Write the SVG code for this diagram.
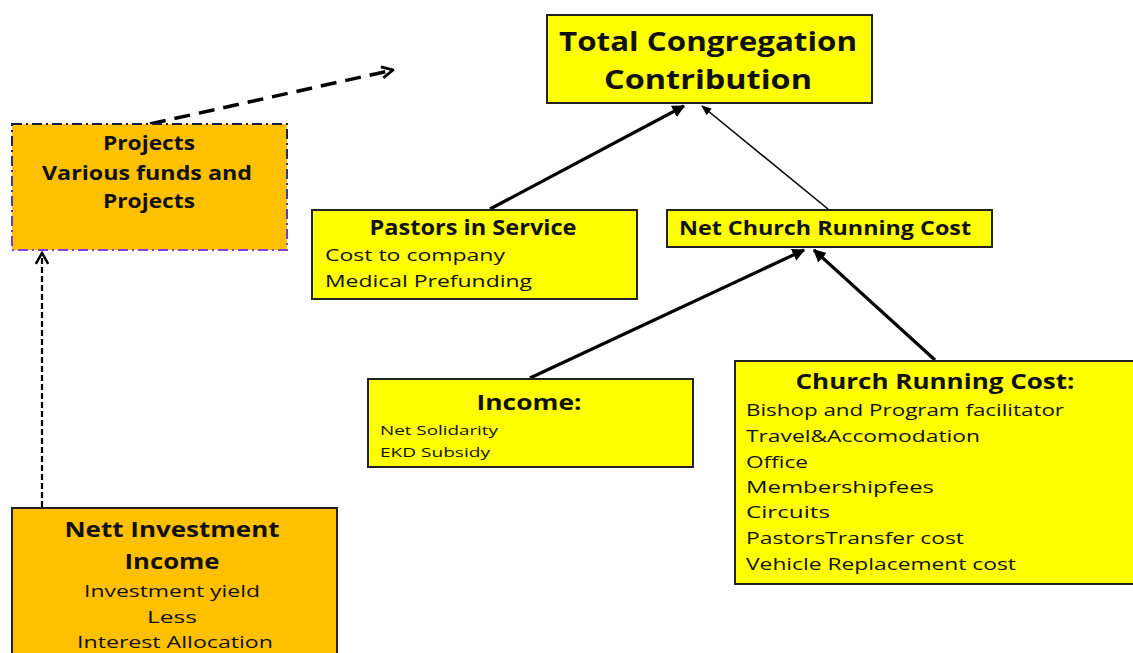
<svg xmlns="http://www.w3.org/2000/svg" width="1133" height="653" viewBox="0 0 1133 653">
  <style>
    .box { fill: #FFFF00; stroke: #222; stroke-width: 2; }
    .box-o { fill: #FFC000; stroke: #222; stroke-width: 2; }
    text { font-family: "Open Sans", Lato, "Liberation Sans", sans-serif; fill: #111; }
    .t1 { font-size: 27px; font-weight: 700; text-anchor: middle; }
    .hc { font-size: 21px; font-weight: 700; text-anchor: middle; }
    .it { font-size: 17px; }
    .itc { font-size: 17px; text-anchor: middle; }
    .sm { font-size: 13px; }
    .conn { fill: none; stroke: #000; }
  </style>
  <defs>
    <marker id="arrowFill" viewBox="0 0 10 10" refX="9" refY="5" markerWidth="4" markerHeight="4" orient="auto" markerUnits="strokeWidth">
      <path d="M0,0 L10,5 L0,10 z" fill="#000"/>
    </marker>
    <marker id="arrowThin" viewBox="0 0 10 10" refX="9" refY="5" markerWidth="7" markerHeight="7" orient="auto" markerUnits="strokeWidth">
      <path d="M0,1 L10,5 L0,9 z" fill="#000"/>
    </marker>
    <marker id="arrowOpen" viewBox="0 0 10 10" refX="9" refY="5" markerWidth="4" markerHeight="4" orient="auto" markerUnits="strokeWidth">
      <path d="M1,1 L9,5 L1,9" fill="none" stroke="#000" stroke-width="2"/>
    </marker>
    <marker id="arrowOpenThin" viewBox="0 0 10 10" refX="9" refY="5" markerWidth="7" markerHeight="7" orient="auto" markerUnits="strokeWidth">
      <path d="M2,1 L9,5 L2,9" fill="none" stroke="#000" stroke-width="1.6"/>
    </marker>
    <linearGradient id="projEdge" x1="0" y1="0" x2="0" y2="1">
      <stop offset="0" stop-color="#1a1a40"/>
      <stop offset="0.5" stop-color="#3340b0"/>
      <stop offset="1" stop-color="#8a3fd0"/>
    </linearGradient>
  </defs>

  <!-- connectors -->
  <g id="connectors">
    <path class="conn" d="M490,209 L684,106" stroke-width="3.2" marker-end="url(#arrowFill)"/>
    <path class="conn" d="M828,209 L702,106" stroke-width="1.5" marker-end="url(#arrowThin)"/>
    <path class="conn" d="M530,378 L804,250" stroke-width="3.2" marker-end="url(#arrowFill)"/>
    <path class="conn" d="M935,360 L814,250" stroke-width="3.2" marker-end="url(#arrowFill)"/>
    <path class="conn" d="M150,124 L393,70" stroke-width="3.5" stroke-dasharray="16,9" marker-end="url(#arrowOpen)"/>
    <path class="conn" d="M42,507 L42,253" stroke-width="2.2" stroke-dasharray="6,3" marker-end="url(#arrowOpenThin)"/>
  </g>

  <!-- Total Congregation Contribution -->
  <g id="total">
    <rect class="box" x="547" y="15" width="325" height="88"/>
    <text class="t1" x="708" y="51" textLength="298" lengthAdjust="spacingAndGlyphs">Total Congregation</text>
    <text class="t1" x="708" y="89" textLength="208" lengthAdjust="spacingAndGlyphs">Contribution</text>
  </g>

  <!-- Projects -->
  <g id="projects">
    <rect x="12" y="124" width="275" height="126" fill="#FFC000" stroke="url(#projEdge)" stroke-width="2" stroke-dasharray="10,4,2,4"/>
    <text class="hc" x="149" y="150" style="font-size:19px" textLength="92" lengthAdjust="spacingAndGlyphs">Projects</text>
    <text class="hc" x="147" y="180" style="font-size:19px" textLength="210" lengthAdjust="spacingAndGlyphs">Various  funds and</text>
    <text class="hc" x="149" y="208" style="font-size:19px" textLength="92" lengthAdjust="spacingAndGlyphs">Projects</text>
  </g>

  <!-- Pastors in Service -->
  <g id="pastors">
    <rect class="box" x="312" y="210" width="325" height="89"/>
    <text class="hc" x="473" y="235" textLength="207" lengthAdjust="spacingAndGlyphs">Pastors in Service</text>
    <text class="it" x="325" y="261" textLength="180" lengthAdjust="spacingAndGlyphs">Cost to company</text>
    <text class="it" x="325" y="287" textLength="207" lengthAdjust="spacingAndGlyphs">Medical Prefunding</text>
  </g>

  <!-- Net Church Running Cost -->
  <g id="net-church">
    <rect class="box" x="667" y="210" width="325" height="37"/>
    <text class="hc" x="825" y="235" style="font-size:20px" textLength="292" lengthAdjust="spacingAndGlyphs">Net Church  Running  Cost</text>
  </g>

  <!-- Income -->
  <g id="income">
    <rect class="box" x="368" y="379" width="325" height="88"/>
    <text class="hc" x="529" y="410" textLength="105" lengthAdjust="spacingAndGlyphs">Income:</text>
    <text class="sm" x="380" y="435" textLength="118" lengthAdjust="spacingAndGlyphs">Net Solidarity</text>
    <text class="sm" x="380" y="457" textLength="110" lengthAdjust="spacingAndGlyphs">EKD Subsidy</text>
  </g>

  <!-- Church Running Cost -->
  <g id="church-running">
    <rect class="box" x="735" y="361" width="410" height="223"/>
    <text class="hc" x="935" y="389" textLength="279" lengthAdjust="spacingAndGlyphs">Church Running Cost:</text>
    <text class="it" x="746" y="416" textLength="318" lengthAdjust="spacingAndGlyphs">Bishop and Program facilitator</text>
    <text class="it" x="746" y="442" textLength="234" lengthAdjust="spacingAndGlyphs">Travel&amp;Accomodation</text>
    <text class="it" x="746" y="468" textLength="62" lengthAdjust="spacingAndGlyphs">Office</text>
    <text class="it" x="746" y="493" textLength="188" lengthAdjust="spacingAndGlyphs">Membershipfees</text>
    <text class="it" x="746" y="518" textLength="84" lengthAdjust="spacingAndGlyphs">Circuits</text>
    <text class="it" x="746" y="544" textLength="218" lengthAdjust="spacingAndGlyphs">PastorsTransfer cost</text>
    <text class="it" x="746" y="570" textLength="270" lengthAdjust="spacingAndGlyphs">Vehicle Replacement cost</text>
  </g>

  <!-- Nett Investment Income -->
  <g id="investment">
    <rect class="box-o" x="12" y="508" width="325" height="160"/>
    <text class="hc" x="172" y="537" textLength="215" lengthAdjust="spacingAndGlyphs">Nett Investment</text>
    <text class="hc" x="172" y="569" textLength="95" lengthAdjust="spacingAndGlyphs">Income</text>
    <text class="itc" x="172" y="597" textLength="176" lengthAdjust="spacingAndGlyphs">Investment yield</text>
    <text class="itc" x="172" y="623" textLength="50" lengthAdjust="spacingAndGlyphs">Less</text>
    <text class="itc" x="175" y="648" textLength="196" lengthAdjust="spacingAndGlyphs">Interest Allocation</text>
  </g>
</svg>
